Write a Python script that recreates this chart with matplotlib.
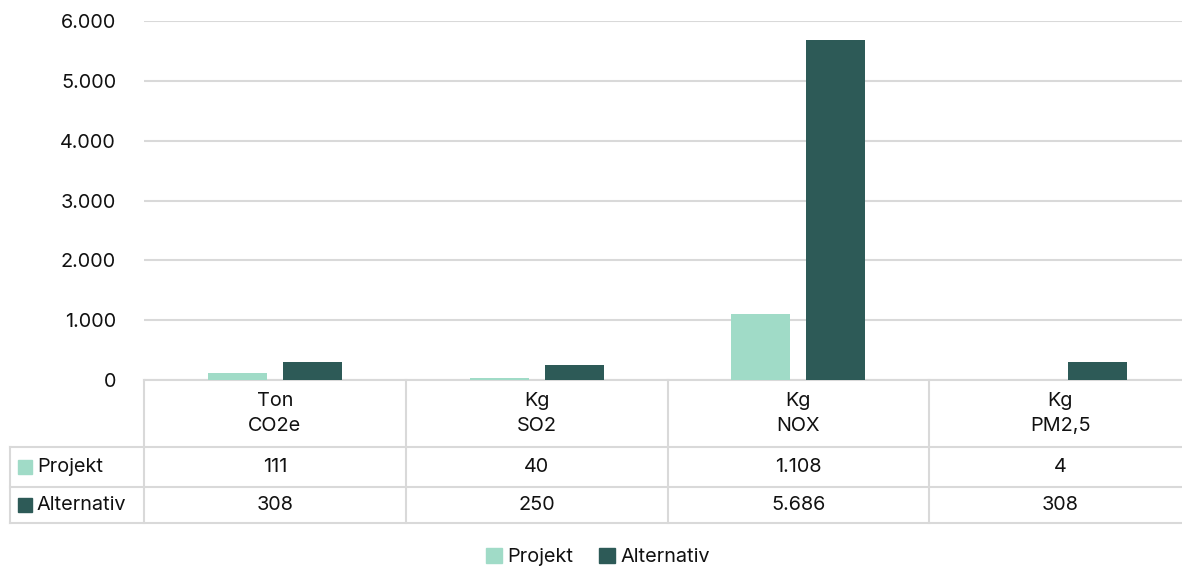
import matplotlib.pyplot as plt
from matplotlib.transforms import blended_transform_factory
from matplotlib.patches import Rectangle

plt.rcParams["font.family"] = ["Inter", "DejaVu Sans"]

categories = ["Ton\nCO2e", "Kg\nSO2", "Kg\nNOX", "Kg\nPM2,5"]
series_names = ["Projekt", "Alternativ"]
projekt = [111, 40, 1108, 4]
alternativ = [308, 250, 5686, 308]
yticks = [0, 1000, 2000, 3000, 4000, 5000, 6000]

colors = ["#A0DBC7", "#2D5A57"]
grid_color = "#D9D9D9"
text_color = "#111111"
fs = 14.3


def fmt(v):
    return f"{v:,}".replace(",", ".")


fig = plt.figure(figsize=(11.82, 5.70), dpi=100)
W, H = 1182, 570
ax = fig.add_axes([144 / W, 1 - 380 / H, (1191 - 144) / W, (380 - 21) / H])

x = list(range(len(categories)))
bw = 0.225
gap = 0.061
off = (bw + gap) / 2
ax.bar([i - off for i in x], projekt, width=bw, color=colors[0], zorder=3)
ax.bar([i + off for i in x], alternativ, width=bw, color=colors[1], zorder=3)

ax.set_xlim(-0.5, len(categories) - 0.5)
ax.set_ylim(0, 6000)
ax.set_yticks(yticks)
ax.set_yticklabels([fmt(v) for v in yticks])
ax.set_xticks([])
ax.tick_params(axis="y", length=0, pad=20, labelsize=fs, labelcolor=text_color)
ax.grid(axis="y", color=grid_color, lw=1.5, zorder=0)
for s in ax.spines.values():
    s.set_visible(False)

# data table under the plot
tr = blended_transform_factory(ax.transData, ax.transAxes)
ppx = 1 / (380 - 21)
y_head = -(447 - 380) * ppx
y_r1 = -(487 - 380) * ppx
y_r2 = -(523 - 380) * ppx
x_left = -0.5 - (144 - 10) / 261.5
x_right = len(categories) - 0.5 + 0.1
lkw = dict(color=grid_color, lw=1.5, transform=tr, clip_on=False, zorder=1)

ax.plot([-0.5, x_right], [0, 0], **lkw)
for yy in (y_head, y_r1, y_r2):
    ax.plot([x_left, x_right], [yy, yy], **lkw)
ax.plot([x_left, x_left], [y_head, y_r2], **lkw)
for i in range(len(categories)):
    ax.plot([i - 0.5, i - 0.5], [0, y_r2], **lkw)

tkw = dict(transform=tr, ha="center", va="center", fontsize=fs, color=text_color)
for i, cat in enumerate(categories):
    ax.text(i, y_head / 2, cat, linespacing=1.5, **tkw)
    ax.text(i, (y_head + y_r1) / 2, fmt(projekt[i]), **tkw)
    ax.text(i, (y_r1 + y_r2) / 2, fmt(alternativ[i]), **tkw)

sq = 14 / 261.5
sqh = 14 * ppx
for (name, c), (ya, yb) in zip(zip(series_names, colors), [(y_head, y_r1), (y_r1, y_r2)]):
    ym = (ya + yb) / 2
    ax.add_patch(Rectangle((x_left + 8 / 261.5, ym - sqh / 2), sq, sqh, color=c,
                           transform=tr, clip_on=False))
    ax.text(x_left + 27 / 261.5, ym, name, transform=tr, ha="left", va="center",
            fontsize=fs, color=text_color)

fig.legend(
    [Rectangle((0, 0), 1, 1, color=c) for c in colors],
    series_names,
    loc="center",
    bbox_to_anchor=(598 / W, 1 - 557 / H),
    ncol=2,
    frameon=False,
    fontsize=fs,
    handlelength=0.8,
    handleheight=0.8,
    handletextpad=0.25,
    columnspacing=1.3,
    labelcolor=text_color,
)

fig.savefig("out.png", dpi=100)
